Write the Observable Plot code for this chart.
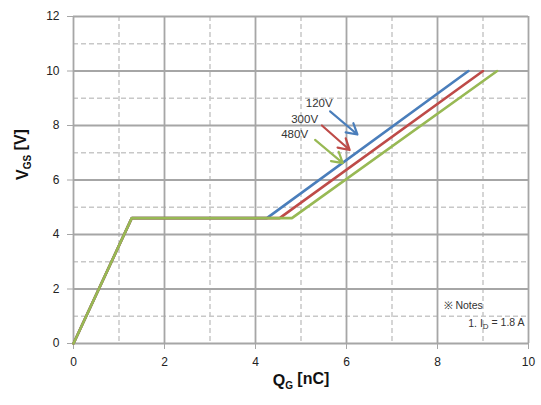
<!DOCTYPE html>
<html>
<head>
<meta charset="utf-8">
<script src="https://cdn.jsdelivr.net/npm/d3@7"></script>
<script src="https://cdn.jsdelivr.net/npm/@observablehq/plot@0.6"></script>
<style>
  html, body { margin: 0; padding: 0; background: #fff; }
  #chart svg { display: block; }
</style>
</head>
<body>
<div id="chart"></div>
<script>
// ---- data ----
const seriesNames = ["120V", "300V", "480V"];
const seriesColors = ["#4a7ebb", "#be4b48", "#98b954"];
const qg120 = [0, 1.28, 4.25, 8.68];
const qg300 = [0, 1.28, 4.53, 9.00];
const qg480 = [0, 1.28, 4.80, 9.31];
const vgsPts = [0, 4.6, 4.6, 10];

const xMajor = [0, 2, 4, 6, 8, 10];
const xMinor = [1, 3, 5, 7, 9];
const yMajor = [0, 2, 4, 6, 8, 10, 12];
const yMinor = [1, 3, 5, 7, 9, 11];

// annotation arrows (data coords): start -> end
const arrowX1 = [5.64, 5.46, 5.31];
const arrowY1 = [8.52, 8.00, 7.47];
const arrowX2 = [6.24, 6.07, 5.92];
const arrowY2 = [7.67, 7.10, 6.62];
const labelX = [5.40, 5.08, 4.86];
const labelY = [8.83, 8.21, 7.66];

// ---- build tables ----
const qgs = [qg120, qg300, qg480];
const lines = [];
seriesNames.forEach((s, i) => qgs[i].forEach((q, j) => lines.push({series: s, qg: q, vgs: vgsPts[j]})));
const arrows = seriesNames.map((s, i) => ({series: s, x1: arrowX1[i], y1: arrowY1[i], x2: arrowX2[i], y2: arrowY2[i], lx: labelX[i], ly: labelY[i]}));

const font = "Liberation Sans, Arial, sans-serif";

const chart = Plot.plot({
  width: 541,
  height: 405,
  marginLeft: 73,
  marginRight: 13,
  marginTop: 16,
  marginBottom: 62,
  style: {fontFamily: font, fontSize: "12px", color: "#222", background: "#fff"},
  x: {domain: [0, 10]},
  y: {domain: [0, 12]},
  color: {domain: seriesNames, range: seriesColors},
  marks: [
    Plot.ruleX(xMinor, {stroke: "#c8c8c8", strokeWidth: 1.5, strokeDasharray: "5,3"}),
    Plot.ruleY(yMinor, {stroke: "#c8c8c8", strokeWidth: 1.5, strokeDasharray: "5,3"}),
    Plot.ruleX(xMajor, {stroke: "#a6a6a6", strokeWidth: 1.8}),
    Plot.ruleY(yMajor, {stroke: "#a6a6a6", strokeWidth: 1.8}),
    Plot.axisX(xMajor, {tickSize: 6, tickPadding: 8, stroke: "#a6a6a6", fill: "#222", fontSize: 12, label: null}),
    Plot.axisY(yMajor, {tickSize: 6, tickPadding: 8, stroke: "#a6a6a6", fill: "#222", fontSize: 12, label: null}),
    Plot.line(lines, {x: "qg", y: "vgs", z: "series", stroke: "series", strokeWidth: 2.6, strokeLinejoin: "miter"}),
    Plot.arrow(arrows, {x1: "x1", y1: "y1", x2: "x2", y2: "y2", stroke: "series", strokeWidth: 2.2, headLength: 12}),
    Plot.text(arrows, {x: "lx", y: "ly", text: "series", fill: "#333", fontSize: 11.5, textAnchor: "middle"}),
    Plot.text(["VGS [V]"], {frameAnchor: "left", rotate: -90, dx: -51, fontSize: 16, fontWeight: "bold", fill: "#111", className: "ytitle"}),
    Plot.text(["QG [nC]"], {frameAnchor: "bottom", dy: 42, fontSize: 16, fontWeight: "bold", fill: "#111", className: "xtitle"}),
    Plot.text(["※ Notes"], {frameAnchor: "bottom-right", textAnchor: "start", dx: -85, dy: -35, fontSize: 10.5, fill: "#333"}),
    Plot.text(["1. ID = 1.8 A"], {frameAnchor: "bottom-right", textAnchor: "end", dx: -4, dy: -17, fontSize: 10.5, fill: "#333", className: "note1"})
  ]
});

document.getElementById("chart").appendChild(chart);

// subscripts
function subscript(cls, main, sub, rest, subSize) {
  const t = d3.select(chart).select("g." + cls).select("text");
  t.text(null);
  t.append("tspan").text(main);
  t.append("tspan").attr("dy", "0.3em").attr("font-size", subSize).text(sub);
  t.append("tspan").attr("dy", "-0.3em").text(rest);
}
subscript("ytitle", "V", "GS", " [V]", 10);
subscript("xtitle", "Q", "G", " [nC]", 10);
subscript("note1", "1. I", "D", " = 1.8 A", 8);
</script>
</body>
</html>
